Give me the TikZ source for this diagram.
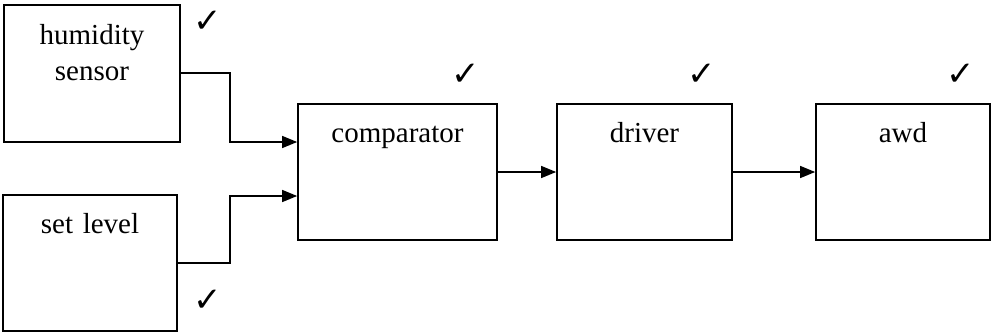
\documentclass[tikz,border=0pt]{standalone}
\usepackage{fontspec}
\setmainfont{Liberation Serif}
\newfontfamily\chkfont{DejaVu Sans}
\usetikzlibrary{arrows.meta}
\begin{document}
\begin{tikzpicture}[x=1pt,y=-1pt,
  blk/.style={draw, line width=1.7pt, inner sep=0pt, align=center,
    font=\fontsize{29}{36}\selectfont},
  wire/.style={line width=1.4pt, -{Triangle[length=15pt,width=12pt]}},
  chk/.style={inner sep=0pt, font=\chkfont\bfseries\fontsize{34}{34}\selectfont}]
\useasboundingbox (0,0) rectangle (991,333);
\node[blk, text width=176pt, text height=39pt, text depth=98pt] (hs) at (92,73.5) {humidity\\sensor};
\node[blk, text width=174pt, text height=38pt, text depth=98pt] (sl) at (90,263) {set level};
\node[blk, text width=199pt, text height=38pt, text depth=98pt] (cmp) at (397.5,172) {comparator};
\node[blk, text width=175pt, text height=38pt, text depth=98pt] (drv) at (644.5,172) {driver};
\node[blk, text width=174pt, text height=38pt, text depth=98pt] (awd) at (903,172) {awd};
\coordinate (j1) at (230,73);
\coordinate (j2) at (230,263);
\draw[wire] (hs.east |- j1) -- (j1) |- (cmp.west |- 0,142);
\draw[wire] (sl.east |- j2) -- (j2) |- (cmp.west |- 0,196);
\draw[wire] (cmp.east) -- (drv.west);
\draw[wire] (drv.east) -- (awd.west);
\node[chk] (c1) at (208,22) {✓};
\node[chk] (c2) at (208,301) {✓};
\node[chk] (c3) at (466,75) {✓};
\node[chk] (c4) at (702,75) {✓};
\node[chk] (c5) at (961,75) {✓};
\end{tikzpicture}
\end{document}
